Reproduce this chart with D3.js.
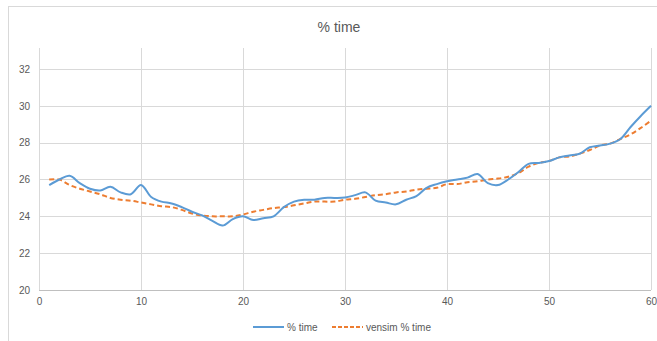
<!DOCTYPE html>
<html>
<head>
<meta charset="utf-8">
<script src="https://cdn.jsdelivr.net/npm/d3@7"></script>
<style>
  html, body { margin: 0; padding: 0; background: #fff; }
  svg { display: block; font-family: "Liberation Sans", "Open Sans", sans-serif; }
</style>
</head>
<body>
<svg id="chart" width="657" height="341"></svg>
<script>
// Time steps (x values)
const steps = d3.range(1, 61);

// Observed "% time"
const pctTime = [
  25.7, 26.0, 26.2, 25.8, 25.5, 25.4, 25.6, 25.3, 25.2, 25.7,
  25.05, 24.8, 24.7, 24.5, 24.25, 24.05, 23.75, 23.5, 23.85, 24.0,
  23.8, 23.9, 24.0, 24.5, 24.8, 24.9, 24.9, 25.0, 25.0, 25.02,
  25.15, 25.3, 24.85, 24.75, 24.65, 24.9, 25.1, 25.55, 25.75, 25.9,
  26.0, 26.1, 26.3, 25.8, 25.7, 26.0, 26.4, 26.85, 26.9, 27.0,
  27.2, 27.3, 27.4, 27.75, 27.85, 27.95, 28.2, 28.85, 29.45, 30.0
];

// Simulated "vensim % time"
const vensimPctTime = [
  26.0, 26.0, 25.7, 25.5, 25.35, 25.2, 25.0, 24.9, 24.85, 24.75,
  24.65, 24.55, 24.5, 24.35, 24.15, 24.05, 24.0, 24.0, 24.0, 24.1,
  24.25, 24.35, 24.45, 24.5, 24.6, 24.7, 24.8, 24.8, 24.8, 24.9,
  24.95, 25.05, 25.15, 25.2, 25.3, 25.35, 25.45, 25.5, 25.55, 25.75,
  25.75, 25.85, 25.9, 26.0, 26.05, 26.15, 26.35, 26.7, 26.9, 27.0,
  27.2, 27.25, 27.4, 27.6, 27.85, 27.95, 28.2, 28.45, 28.8, 29.2
];

const xTicks = [0, 10, 20, 30, 40, 50, 60];
const yTicks = [20, 22, 24, 26, 28, 30, 32];

const seriesNames = ["% time", "vensim % time"];
const seriesColors = ["#5B9BD5", "#ED7D31"];

const svg = d3.select("#chart");

// outer chart frame
svg.append("rect")
  .attr("x", 8.5).attr("y", 6.5)
  .attr("width", 660).attr("height", 345)
  .attr("fill", "#fff").attr("stroke", "#d9d9d9");

const plot = { left: 39, right: 651, top: 48, bottom: 290 };

const x = d3.scaleLinear().domain([0, 60]).range([plot.left, plot.right]);
const y = d3.scaleLinear().domain([20, 33.14]).range([plot.bottom, plot.top]);

// horizontal gridlines
svg.append("g")
  .selectAll("line")
  .data(yTicks.filter(d => d > 20))
  .join("line")
  .attr("x1", plot.left).attr("x2", plot.right)
  .attr("y1", d => Math.round(y(d)) + 0.5).attr("y2", d => Math.round(y(d)) + 0.5)
  .attr("stroke", "#d9d9d9").attr("stroke-width", 1);

// vertical gridlines
svg.append("g")
  .selectAll("line")
  .data(xTicks)
  .join("line")
  .attr("x1", d => Math.round(x(d)) + 0.5).attr("x2", d => Math.round(x(d)) + 0.5)
  .attr("y1", plot.top).attr("y2", plot.bottom)
  .attr("stroke", "#d9d9d9").attr("stroke-width", 1);

// bottom axis line
svg.append("line")
  .attr("x1", plot.left).attr("x2", plot.right)
  .attr("y1", Math.round(y(20)) + 0.5).attr("y2", Math.round(y(20)) + 0.5)
  .attr("stroke", "#bfbfbf");

// x axis labels
const xAxis = d3.axisBottom(x).tickValues(xTicks).tickSize(0).tickPadding(8);
svg.append("g")
  .attr("transform", `translate(0,${plot.bottom})`)
  .call(xAxis)
  .call(g => g.select(".domain").remove())
  .call(g => g.selectAll("text").attr("fill", "#595959").attr("font-size", 10)
    .attr("font-family", "Liberation Sans, sans-serif"));

// y axis labels
const yAxis = d3.axisLeft(y).tickValues(yTicks).tickSize(0).tickPadding(9);
svg.append("g")
  .attr("transform", `translate(${plot.left},0)`)
  .call(yAxis)
  .call(g => g.select(".domain").remove())
  .call(g => g.selectAll("text").attr("fill", "#595959").attr("font-size", 10)
    .attr("font-family", "Liberation Sans, sans-serif"));

// smoothed series lines
const line = d3.line()
  .x((d, i) => x(steps[i]))
  .y(d => y(d))
  .curve(d3.curveCatmullRom.alpha(0.5));

svg.append("path")
  .datum(vensimPctTime)
  .attr("d", line)
  .attr("fill", "none")
  .attr("stroke", seriesColors[1])
  .attr("stroke-width", 2)
  .attr("stroke-dasharray", "5,3");

svg.append("path")
  .datum(pctTime)
  .attr("d", line)
  .attr("fill", "none")
  .attr("stroke", seriesColors[0])
  .attr("stroke-width", 2);

// title
svg.append("text")
  .attr("x", 339).attr("y", 32)
  .attr("text-anchor", "middle")
  .attr("fill", "#595959")
  .attr("font-size", 14)
  .text("% time");

// legend
const legend = svg.append("g").attr("transform", "translate(253,327)");
const legendItems = [
  { name: seriesNames[0], color: seriesColors[0], dash: null, x: 0 },
  { name: seriesNames[1], color: seriesColors[1], dash: "4,2", x: 79 }
];
legendItems.forEach(it => {
  const g = legend.append("g").attr("transform", `translate(${it.x},0)`);
  g.append("line")
    .attr("x1", 0).attr("x2", 31).attr("y1", 0).attr("y2", 0)
    .attr("stroke", it.color).attr("stroke-width", 2)
    .attr("stroke-dasharray", it.dash);
  g.append("text")
    .attr("x", 34).attr("y", 3.5)
    .attr("fill", "#595959").attr("font-size", 10)
    .text(it.name);
});
</script>
</body>
</html>
